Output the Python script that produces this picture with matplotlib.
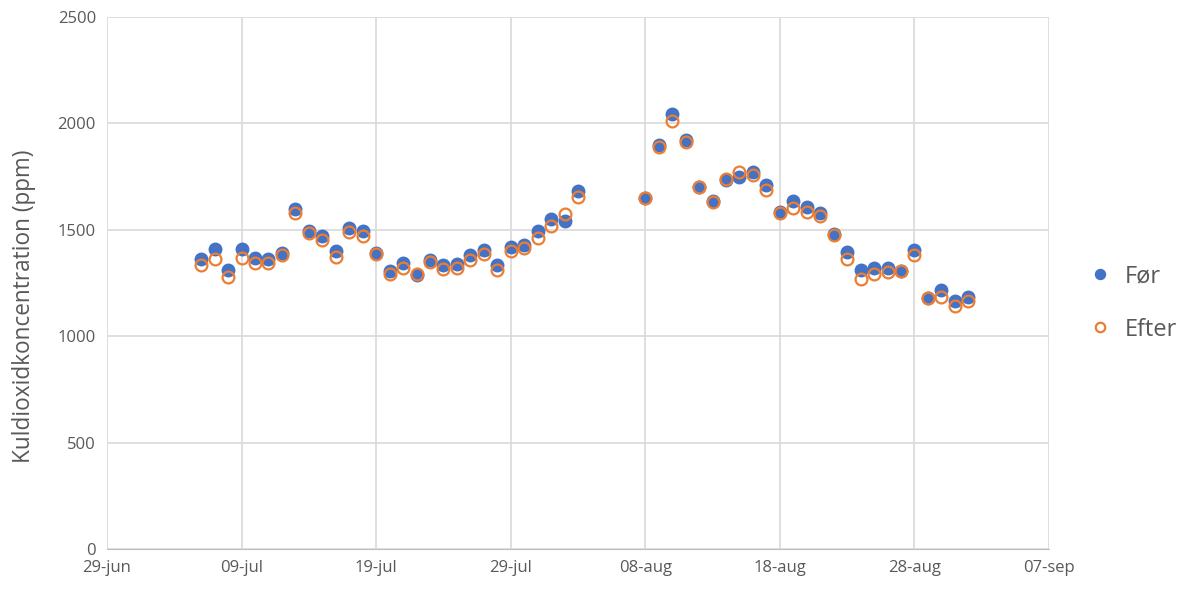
import matplotlib.pyplot as plt
import pandas as pd

plt.rcParams['font.family'] = ['Open Sans', 'DejaVu Sans']

# Data
dates = pd.to_datetime(
    [f"2020-07-{d:02d}" for d in range(6, 32)]
    + [f"2020-08-{d:02d}" for d in range(1, 4)]
    + [f"2020-08-{d:02d}" for d in range(8, 32)]
    + ["2020-09-01"]
)
foer = [1363, 1410, 1311, 1410, 1367, 1363, 1391, 1598, 1494, 1471,
        1400, 1508, 1494, 1391, 1306, 1344, 1288, 1358, 1335, 1339,
        1382, 1405, 1335, 1419, 1429, 1494, 1551, 1541, 1682,
        1649, 1898, 2044, 1922, 1701, 1635, 1734, 1748, 1772, 1711,
        1584, 1635, 1607, 1579, 1480, 1396, 1311, 1321, 1321, 1306,
        1405, 1180, 1217, 1165, 1184]
efter = [1335, 1363, 1278, 1367, 1344, 1344, 1382, 1579, 1485, 1452,
         1372, 1490, 1471, 1386, 1292, 1320, 1292, 1349, 1316, 1320,
         1358, 1386, 1311, 1400, 1414, 1461, 1518, 1574, 1654,
         1649, 1889, 2011, 1913, 1701, 1631, 1739, 1772, 1758, 1687,
         1579, 1603, 1584, 1565, 1476, 1363, 1269, 1292, 1302, 1306,
         1382, 1180, 1184, 1142, 1165]
tick_dates = pd.to_datetime(["2020-06-29", "2020-07-09", "2020-07-19", "2020-07-29",
                             "2020-08-08", "2020-08-18", "2020-08-28", "2020-09-07"])
tick_labels = ["29-jun", "09-jul", "19-jul", "29-jul", "08-aug", "18-aug", "28-aug", "07-sep"]

fig = plt.figure(figsize=(11.84, 5.96), dpi=100)
ax = fig.add_axes([107 / 1184, 47 / 596, 942 / 1184, 532 / 596])

ax.plot(dates, foer, 'o', color='#4472C4', markersize=9, label='Før', zorder=3)
ax.plot(dates, efter, 'o', markerfacecolor='none', markeredgecolor='#ED7D31',
        markeredgewidth=1.6, markersize=8.5, label='Efter', zorder=4)

ax.set_xlim(tick_dates[0], tick_dates[-1])
ax.set_ylim(0, 2500)
ax.set_xticks(tick_dates)
ax.set_xticklabels(tick_labels)
ax.set_yticks(range(0, 2501, 500))
ax.grid(True, color='#d9d9d9', linewidth=1.2)
ax.set_axisbelow(True)
for s in ['top', 'right', 'left']:
    ax.spines[s].set_visible(False)
ax.spines['bottom'].set_color('#bfbfbf')
ax.tick_params(length=0, colors='#595959', labelsize=12, pad=8)
ax.set_ylabel('Kuldioxidkoncentration (ppm)', fontsize=16.3, color='#595959')
ax.yaxis.set_label_coords(-0.075, 0.457)

fig.legend(loc='center left', bbox_to_anchor=(1072 / 1184, 1 - 303 / 596), frameon=False,
           fontsize=17, labelcolor='#595959', handletextpad=0.35, labelspacing=1.25,
           markerscale=0.8, borderpad=0, handlelength=1.4)

fig.savefig('out.png', dpi=100)
